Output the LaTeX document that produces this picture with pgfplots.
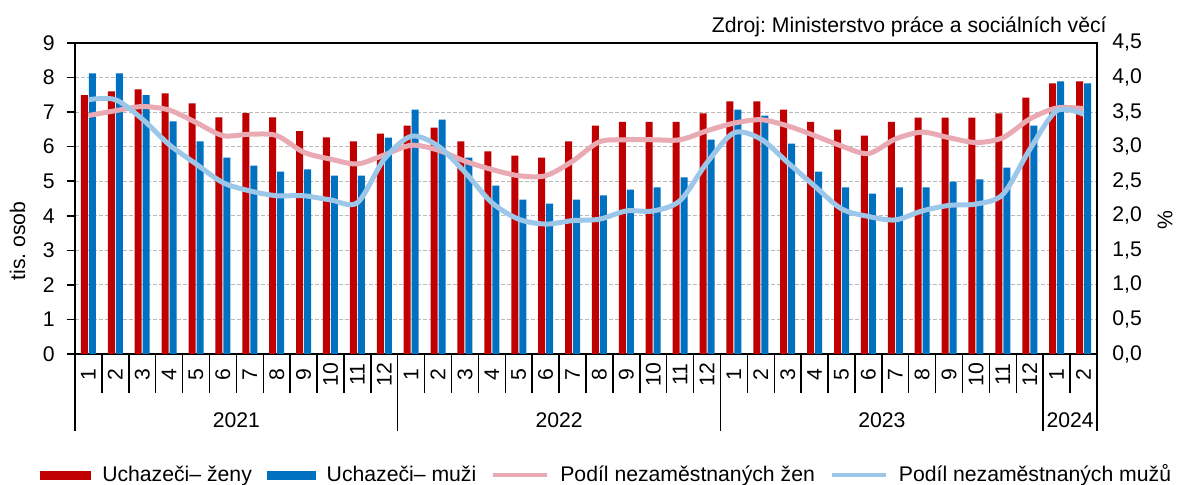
\documentclass[border=0pt]{standalone}
\usepackage{fontspec}
\setmainfont{Liberation Sans}
\usepackage{pgfplots}
\usepackage{pgfplotstable}
\pgfplotsset{compat=1.18}
\definecolor{barred}{RGB}{192,0,0}
\definecolor{barblue}{RGB}{0,112,192}
\definecolor{linepink}{RGB}{234,170,180}
\definecolor{lineblue}{RGB}{156,199,232}
\definecolor{gridgray}{RGB}{185,185,185}

\pgfplotstableread{
m zeny muzi pz pm
1 7.49 8.12 3.45 3.68
2 7.60 8.12 3.52 3.68
3 7.66 7.49 3.58 3.40
4 7.54 6.73 3.53 3.03
5 7.25 6.15 3.35 2.75
6 6.85 5.68 3.16 2.48
7 6.97 5.45 3.18 2.36
8 6.85 5.28 3.16 2.29
9 6.45 5.34 2.92 2.29
10 6.27 5.16 2.82 2.23
11 6.15 5.16 2.75 2.19
12 6.38 6.26 2.88 2.82
13 6.61 7.07 3.02 3.15
14 6.55 6.78 2.95 3.01
15 6.15 5.68 2.79 2.63
16 5.86 4.87 2.67 2.19
17 5.74 4.47 2.58 1.95
18 5.68 4.35 2.58 1.88
19 6.15 4.47 2.79 1.93
20 6.61 4.59 3.07 1.95
21 6.72 4.76 3.10 2.07
22 6.72 4.82 3.10 2.07
23 6.72 5.11 3.10 2.22
24 6.96 6.20 3.23 2.77
25 7.31 7.07 3.34 3.20
26 7.31 6.90 3.39 3.11
27 7.07 6.09 3.30 2.77
28 6.72 5.28 3.16 2.43
29 6.49 4.82 3.01 2.10
30 6.32 4.64 2.90 1.99
31 6.72 4.82 3.11 1.94
32 6.84 4.82 3.21 2.07
33 6.84 4.99 3.13 2.15
34 6.84 5.05 3.06 2.17
35 6.96 5.39 3.13 2.31
36 7.42 6.61 3.40 2.96
37 7.83 7.89 3.56 3.52
38 7.89 7.83 3.55 3.47
}\data

\begin{document}
\frenchspacing
\fontsize{10.6}{12.7}\selectfont
\begin{tikzpicture}
\useasboundingbox (-37.5pt,-65.5pt) rectangle (554pt,177pt);
\begin{axis}[
  at={(0,0)}, anchor=south west,
  scale only axis, width=511pt, height=155.5pt,
  xmin=0.5, xmax=38.5, ymin=0, ymax=9,
  ytick={0,1,2,3,4,5,6,7,8,9},
  xtick={1,2,3,4,5,6,7,8,9,10,11,12,13,14,15,16,17,18,19,20,21,22,23,24,25,26,27,28,29,30,31,32,33,34,35,36,37,38},
  xticklabels={1,2,3,4,5,6,7,8,9,10,11,12,1,2,3,4,5,6,7,8,9,10,11,12,1,2,3,4,5,6,7,8,9,10,11,12,1,2},
  minor xtick={1.5,2.5,3.5,4.5,5.5,6.5,7.5,8.5,9.5,10.5,11.5,13.5,14.5,15.5,16.5,17.5,18.5,19.5,20.5,21.5,22.5,23.5,25.5,26.5,27.5,28.5,29.5,30.5,31.5,32.5,33.5,34.5,35.5,37.5},
  tick align=outside, tick pos=left,
  major tick length=4pt, minor tick length=19.5pt,
  major x tick style={draw=none},
  minor x tick style={black, line width=0.75pt},
  ytick style={black, line width=0.75pt},
  axis line style={black, line width=0.75pt},
  ymajorgrids, grid style={gridgray, dash pattern=on 2pt off 1pt, line width=0.5pt},
  xticklabel style={yshift=-6.5pt, rotate=90, anchor=center},
  yticklabel style={anchor=east, inner sep=0pt, xshift=-6pt},
  /pgf/number format/assume math mode=true,
  ybar=0.5pt, bar width=3.5pt,
  clip=false,
  ylabel={tis. osob},
  every axis y label/.style={at={(rel axis cs:-0.0563,0.363)}, rotate=90, anchor=center},
]
\addplot[fill=barred, draw=none] table[x=m, y=zeny] {\data};
\addplot[fill=barblue, draw=none] table[x=m, y=muzi] {\data};
\draw[black, line width=0.75pt] (axis cs:0.5,0) -- ([yshift=-38.5pt]axis cs:0.5,0);
\draw[black, line width=0.75pt] (axis cs:12.5,0) -- ([yshift=-38.5pt]axis cs:12.5,0);
\draw[black, line width=0.75pt] (axis cs:24.5,0) -- ([yshift=-38.5pt]axis cs:24.5,0);
\draw[black, line width=0.75pt] (axis cs:36.5,0) -- ([yshift=-38.5pt]axis cs:36.5,0);
\draw[black, line width=0.75pt] (axis cs:38.5,0) -- ([yshift=-38.5pt]axis cs:38.5,0);
\node[anchor=center] at ([yshift=-33pt]axis cs:6.5,0) {2021};
\node[anchor=center] at ([yshift=-33pt]axis cs:18.5,0) {2022};
\node[anchor=center] at ([yshift=-33pt]axis cs:30.5,0) {2023};
\node[anchor=center] at ([yshift=-33pt]axis cs:37.5,0) {2024};
\node[anchor=base east, inner sep=0pt] at (rel axis cs:1.0098,1.035) {Zdroj: Ministerstvo práce a sociálních věcí};
\end{axis}
\begin{axis}[
  at={(0,0)}, anchor=south west,
  scale only axis, width=511pt, height=155.5pt,
  xmin=0.5, xmax=38.5, ymin=0, ymax=4.5,
  ytick={0,0.5,1,1.5,2,2.5,3,3.5,4,4.5},
  axis x line=none, axis y line*=right,
  ytick style={draw=none},
  y axis line style={draw=none},
  yticklabel style={anchor=west, inner sep=0pt, xshift=7.5pt,
    /pgf/number format/.cd, fixed, fixed zerofill, precision=1, use comma},
  /pgf/number format/assume math mode=true,
  ylabel={\%},
  every axis y label/.style={at={(rel axis cs:1.0665,0.431)}, rotate=90, anchor=center},
  clip=false,
  legend columns=4,
  legend style={draw=none, fill=none, at={(rel axis cs:-0.0342,-0.389)}, anchor=west,
    inner sep=0pt, nodes={inner sep=0pt},
    /tikz/every odd column/.append style={column sep=5.5pt},
    /tikz/every even column/.append style={column sep=7.5pt}},
]
\addlegendimage{legend image code/.code={\fill[barred] (0pt,-2pt) rectangle (25pt,2pt);}}
\addlegendentry{Uchazeči– ženy}
\addlegendimage{legend image code/.code={\fill[barblue] (0pt,-2pt) rectangle (24pt,2pt);}}
\addlegendentry{Uchazeči– muži}
\addplot[linepink, line width=2.5pt, smooth, mark=none,
  legend image code/.code={\draw[linepink, line width=2pt] (0pt,0pt) -- (27pt,0pt);}] table[x=m, y=pz] {\data};
\addlegendentry{Podíl nezaměstnaných žen}
\addplot[lineblue, line width=2.5pt, smooth, mark=none,
  legend image code/.code={\draw[lineblue, line width=2pt] (0pt,0pt) -- (27pt,0pt);}] table[x=m, y=pm] {\data};
\addlegendentry{Podíl nezaměstnaných mužů}
\end{axis}
\end{tikzpicture}
\end{document}
